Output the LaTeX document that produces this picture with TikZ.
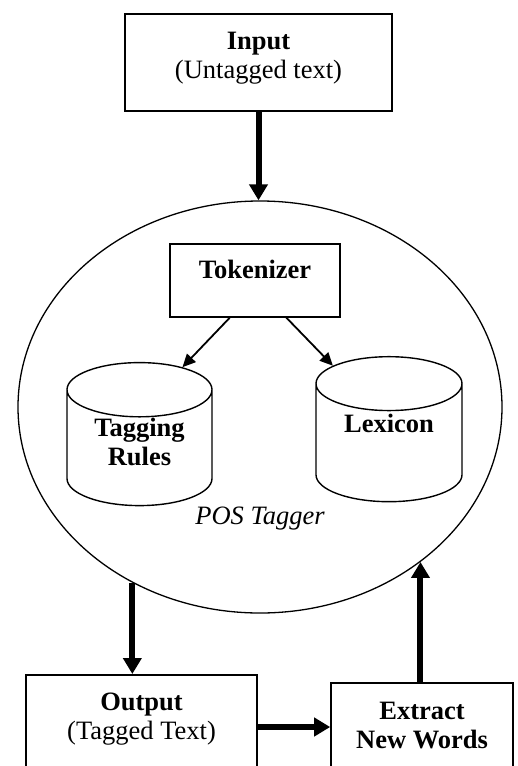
\documentclass[tikz,border=0pt]{standalone}
\usepackage{fontspec}
\setmainfont{Liberation Serif}
\usepackage{tikz}
\usetikzlibrary{shapes.geometric,arrows.meta}

\begin{document}
\begin{tikzpicture}[x=1pt,y=-1pt,
    lbl/.style={font=\fontsize{26.5}{29}\selectfont},
    block/.style={lbl,draw,line width=1.6pt,align=center,inner sep=0pt},
    store/.style={lbl,draw,line width=1.4pt,cylinder,shape border rotate=90,aspect=0.6,
        align=center,inner sep=0pt,font=\fontsize{26.5}{29}\selectfont\bfseries},
    bigarrow/.style={line width=6pt,-{Triangle[length=16pt,width=18pt]}},
    smallarrow/.style={line width=1.8pt,-{Triangle[length=13pt,width=12pt]}}]
    \clip (0,0) rectangle (517,766);

    % input
    \node[block,anchor=north,minimum width=267pt,text height=65pt,text depth=32pt] (in) at (258.5,13)
        {\textbf{Input}\\(Untagged text)};

    % the tagger with its parts
    \node[draw,ellipse,line width=1.3pt,minimum width=484pt,minimum height=412pt,inner sep=0pt] (tagger) at (260,407) {};
    \node[lbl,font=\fontsize{26.5}{29}\selectfont\itshape] (tagname) at (260,519) {POS Tagger};
    \node[block,anchor=north,minimum width=170pt,text height=35pt,text depth=38pt] (tok) at (255,243) {\textbf{Tokenizer}};
    \node[store,minimum width=145pt,minimum height=143pt,text depth=12pt] (rules) at (139.5,448) {Tagging\\Rules};
    \node[store,minimum width=146pt,minimum height=145pt,text depth=40pt] (lex) at (389,443) {Lexicon};

    % output and new words (run off the bottom)
    \node[block,anchor=north,minimum width=231pt,text height=65pt,text depth=100pt] (out) at (141.5,674)
        {\textbf{Output}\\(Tagged Text)};
    \node[block,anchor=north,minimum width=182pt,text height=66pt,text depth=100pt] (ext) at (422,682)
        {\textbf{Extract}\\\textbf{New Words}};

    % connections
    \draw[bigarrow] (in.south) -- (in.south |- tagger.north);
    \draw[smallarrow] (tok.-124) -- (rules.62.3);
    \draw[smallarrow] (tok.-50) -- (lex.126.2);
    \draw[bigarrow] (tagger.-126.8) -- (tagger.-126.8 |- out.north);
    \draw[bigarrow] ([yshift=-53pt]out.north east) -- ([yshift=-53pt]out.north east -| ext.west);
    \draw[bigarrow] (tagger.-44.6 |- ext.north) -- (tagger.-44.6);
\end{tikzpicture}
\end{document}
